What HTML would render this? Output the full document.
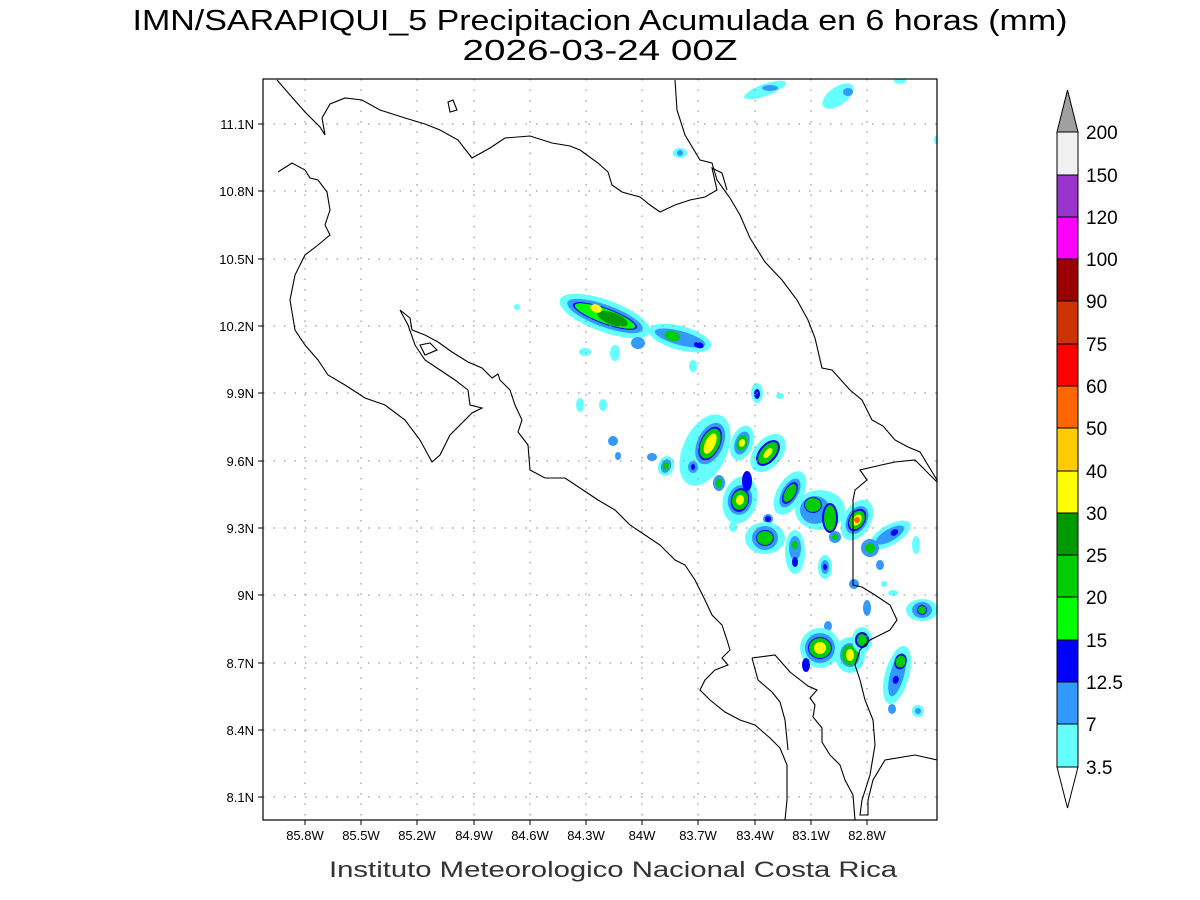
<!DOCTYPE html>
<html><head><meta charset="utf-8"><style>
body{margin:0;background:#fff;width:1200px;height:900px;overflow:hidden}
svg{display:block}
text{font-family:"Liberation Sans",sans-serif}
</style></head><body>
<svg width="1200" height="900" viewBox="0 0 1200 900" xmlns="http://www.w3.org/2000/svg">
<defs><clipPath id="c"><rect x="263" y="79" width="674" height="741"/></clipPath></defs>
<text x="600" y="30" font-size="29" text-anchor="middle" textLength="935" lengthAdjust="spacingAndGlyphs">IMN/SARAPIQUI_5 Precipitacion Acumulada en 6 horas (mm)</text>
<text x="600" y="60" font-size="29" text-anchor="middle" textLength="275" lengthAdjust="spacingAndGlyphs">2026-03-24 00Z</text>
<g clip-path="url(#c)">
<g id="blobs">
<!-- helper layers: cyan, lightblue, blue, green, dkgreen, yellow -->
<g transform="translate(605,316) rotate(20)"><ellipse rx="48" ry="16" fill="#66ffff"/><ellipse rx="40" ry="11" fill="#3399ff"/><ellipse rx="34" ry="8" fill="#0000ff"/><ellipse rx="32" ry="7" fill="#00ff00"/><ellipse cx="8" rx="16" ry="6" fill="#009900"/><ellipse cx="-11" cy="-4" rx="6" ry="4" fill="#ffff00"/></g>
<g transform="translate(680,338) rotate(15)"><ellipse rx="32" ry="12" fill="#66ffff"/><ellipse rx="26" ry="7" fill="#3399ff"/><ellipse cx="-8" rx="8" ry="5" fill="#00cc00"/><ellipse cx="20" cy="2" rx="5" ry="3" fill="#0000ff"/></g>
<ellipse cx="615" cy="353" rx="5" ry="8" fill="#66ffff"/><ellipse cx="585" cy="352" rx="6" ry="4" fill="#66ffff"/><ellipse cx="638" cy="343" rx="7" ry="6" fill="#3399ff"/><ellipse cx="693" cy="366" rx="4" ry="6" fill="#66ffff"/><ellipse cx="517" cy="307" rx="3" ry="3" fill="#66ffff"/>
<ellipse cx="580" cy="405" rx="4" ry="7" fill="#66ffff"/><ellipse cx="603" cy="405" rx="4" ry="6" fill="#66ffff"/>
<ellipse cx="757" cy="393" rx="6" ry="10" fill="#66ffff"/><ellipse cx="757" cy="394" rx="3" ry="5" fill="#0000ff"/><ellipse cx="780" cy="396" rx="4" ry="3" fill="#66ffff"/>
<g transform="translate(705,450) rotate(25)"><ellipse rx="22" ry="38" fill="#66ffff"/><ellipse cx="2" cy="-8" rx="13" ry="22" fill="#3399ff"/><ellipse cx="2" cy="-8" rx="10" ry="18" fill="#0000ff"/><ellipse cx="2" cy="-8" rx="9" ry="16" fill="#00cc00"/><ellipse cx="2" cy="-8" rx="5" ry="11" fill="#ffff00"/></g>
<g transform="translate(742,443) rotate(20)"><ellipse rx="11" ry="18" fill="#66ffff"/><ellipse rx="7" ry="12" fill="#3399ff"/><ellipse rx="5" ry="8" fill="#00cc00"/><ellipse rx="3" ry="4" fill="#ffff00"/></g>
<g transform="translate(768,453) rotate(40)"><ellipse rx="14" ry="22" fill="#66ffff"/><ellipse rx="9" ry="15" fill="#0000ff"/><ellipse rx="7" ry="13" fill="#00cc00"/><ellipse rx="3" ry="6" fill="#ffff00"/></g>
<ellipse cx="613" cy="441" rx="5" ry="5" fill="#3399ff"/><ellipse cx="618" cy="456" rx="3" ry="4" fill="#3399ff"/><ellipse cx="652" cy="457" rx="5" ry="4" fill="#3399ff"/>
<g transform="translate(666,466) rotate(20)"><ellipse rx="8" ry="10" fill="#66ffff"/><ellipse rx="5" ry="7" fill="#3399ff"/><ellipse rx="3" ry="4" fill="#00cc00"/></g>
<ellipse cx="693" cy="467" rx="5" ry="6" fill="#3399ff"/><ellipse cx="693" cy="467" rx="2" ry="3" fill="#0000ff"/>
<g transform="translate(740,500) rotate(15)"><ellipse rx="17" ry="24" fill="#66ffff"/><ellipse rx="12" ry="15" fill="#3399ff"/><ellipse rx="9" ry="12" fill="#0000ff"/><ellipse rx="8" ry="10" fill="#00cc00"/><ellipse rx="4" ry="5" fill="#ffff00"/></g>
<ellipse cx="719" cy="483" rx="6" ry="8" fill="#3399ff"/><ellipse cx="719" cy="483" rx="3" ry="5" fill="#00cc00"/>
<ellipse cx="747" cy="481" rx="5" ry="10" fill="#0000ff"/>
<g transform="translate(790,493) rotate(30)"><ellipse rx="13" ry="24" fill="#66ffff"/><ellipse rx="8" ry="16" fill="#3399ff"/><ellipse rx="6" ry="12" fill="#0000ff"/><ellipse rx="5" ry="10" fill="#00cc00"/></g>
<g transform="translate(820,510)"><ellipse rx="25" ry="20" fill="#66ffff"/><ellipse cx="-5" rx="15" ry="14" fill="#3399ff"/><ellipse cx="-7" cy="-5" rx="9" ry="8" fill="#0000ff"/><ellipse cx="-7" cy="-5" rx="8" ry="7" fill="#00cc00"/><ellipse cx="10" cy="8" rx="8" ry="15" fill="#0000ff"/><ellipse cx="10" cy="8" rx="6" ry="13" fill="#00cc00"/></g>
<g transform="translate(857,520) rotate(30)"><ellipse rx="14" ry="22" fill="#66ffff"/><ellipse rx="10" ry="15" fill="#3399ff"/><ellipse rx="8" ry="12" fill="#0000ff"/><ellipse rx="7" ry="10" fill="#00cc00"/><ellipse rx="4" ry="6" fill="#ffff00"/><ellipse rx="3" ry="3" fill="#ff6600"/></g>
<ellipse cx="835" cy="537" rx="6" ry="6" fill="#3399ff"/><ellipse cx="835" cy="537" rx="3" ry="3" fill="#00cc00"/>
<ellipse cx="768" cy="519" rx="5" ry="5" fill="#3399ff"/><ellipse cx="768" cy="519" rx="3" ry="3" fill="#0000ff"/><ellipse cx="733" cy="527" rx="4" ry="5" fill="#66ffff"/>
<g transform="translate(765,538)"><ellipse rx="20" ry="16" fill="#66ffff"/><ellipse rx="13" ry="12" fill="#3399ff"/><ellipse rx="9" ry="8" fill="#0000ff"/><ellipse rx="8" ry="7" fill="#00cc00"/></g>
<g transform="translate(795,552)"><ellipse rx="10" ry="22" fill="#66ffff"/><ellipse cy="-4" rx="6" ry="12" fill="#3399ff"/><ellipse cy="-7" rx="3" ry="4" fill="#00cc00"/><ellipse cy="10" rx="3" ry="5" fill="#0000ff"/></g>
<ellipse cx="825" cy="567" rx="7" ry="12" fill="#66ffff"/><ellipse cx="825" cy="567" rx="4" ry="7" fill="#3399ff"/><ellipse cx="825" cy="567" rx="2" ry="3" fill="#0000ff"/>
<g transform="translate(890,535) rotate(-30)"><ellipse rx="23" ry="10" fill="#66ffff"/><ellipse rx="16" ry="6" fill="#3399ff"/><ellipse cx="5" rx="4" ry="3" fill="#0000ff"/></g>
<ellipse cx="870" cy="548" rx="9" ry="9" fill="#3399ff"/><ellipse cx="870" cy="548" rx="5" ry="5" fill="#00cc00"/>
<ellipse cx="880" cy="565" rx="4" ry="5" fill="#3399ff"/><ellipse cx="916" cy="545" rx="4" ry="9" fill="#66ffff"/>
<ellipse cx="854" cy="584" rx="5" ry="5" fill="#3399ff"/><ellipse cx="884" cy="584" rx="3" ry="3" fill="#66ffff"/><ellipse cx="893" cy="593" rx="5" ry="3" fill="#66ffff"/>
<ellipse cx="867" cy="608" rx="4" ry="8" fill="#3399ff"/>
<g transform="translate(922,610)"><ellipse rx="16" ry="11" fill="#66ffff"/><ellipse rx="10" ry="8" fill="#3399ff"/><ellipse rx="5" ry="5" fill="#0000ff"/><ellipse rx="4" ry="4" fill="#00cc00"/></g>
<ellipse cx="828" cy="626" rx="4" ry="5" fill="#3399ff"/>
<g transform="translate(820,648)"><ellipse rx="20" ry="20" fill="#66ffff"/><ellipse rx="15" ry="15" fill="#3399ff"/><ellipse rx="12" ry="11" fill="#0000ff"/><ellipse rx="11" ry="10" fill="#00cc00"/><ellipse rx="6" ry="6" fill="#ffff00"/><ellipse cx="-14" cy="17" rx="4" ry="7" fill="#0000ff"/></g>
<g transform="translate(850,655)"><ellipse rx="15" ry="18" fill="#66ffff"/><ellipse rx="10" ry="12" fill="#3399ff"/><ellipse rx="8" ry="10" fill="#00cc00"/><ellipse rx="4" ry="6" fill="#ffff00"/></g>
<g transform="translate(862,640)"><ellipse rx="10" ry="13" fill="#66ffff"/><ellipse rx="7" ry="8" fill="#0000ff"/><ellipse rx="5" ry="6" fill="#00cc00"/></g>
<g transform="translate(897,675) rotate(15)"><ellipse rx="12" ry="30" fill="#66ffff"/><ellipse rx="7" ry="22" fill="#3399ff"/><ellipse cy="-14" rx="6" ry="8" fill="#0000ff"/><ellipse cy="-14" rx="5" ry="6" fill="#00cc00"/><ellipse cy="5" rx="3" ry="4" fill="#0000ff"/></g>
<ellipse cx="892" cy="709" rx="4" ry="5" fill="#3399ff"/><ellipse cx="918" cy="711" rx="6" ry="6" fill="#66ffff"/><ellipse cx="918" cy="711" rx="3" ry="3" fill="#3399ff"/>
<ellipse cx="680" cy="153" rx="7" ry="5" fill="#66ffff"/><ellipse cx="680" cy="153" rx="3" ry="3" fill="#3399ff"/>
<ellipse cx="765" cy="90" rx="22" ry="6" fill="#66ffff" transform="rotate(-20 765 90)"/><ellipse cx="770" cy="88" rx="8" ry="3" fill="#3399ff"/>
<ellipse cx="838" cy="96" rx="18" ry="9" fill="#66ffff" transform="rotate(-35 838 96)"/><ellipse cx="848" cy="92" rx="5" ry="4" fill="#3399ff"/>
<ellipse cx="900" cy="81" rx="6" ry="3" fill="#66ffff"/><ellipse cx="937" cy="140" rx="3" ry="5" fill="#66ffff"/>
</g>
<g stroke="#999" stroke-width="1.2" stroke-dasharray="1.5,9" fill="none">
<path d="M305,79V820M361,79V820M417,79V820M474,79V820M530,79V820M586,79V820M642,79V820M698,79V820M755,79V820M811,79V820M867,79V820"/>
<path d="M263,124H937M263,191H937M263,259H937M263,326H937M263,393H937M263,461H937M263,528H937M263,595H937M263,663H937M263,730H937M263,797H937"/>
</g>
<g stroke="#000" stroke-width="1.1" fill="none">
<path d="M277,80L290,95L305,112L320,127L325,135L322,118L330,104L345,98L362,100L380,110L405,118L425,124L440,130L458,140L472,158L490,148L505,138L530,136L552,143L570,146L580,150L598,163L608,172L612,185L622,192L640,197L650,205L660,212L675,205L690,200L705,197L717,190L712,168L722,173L727,190"/>
<path d="M675,80L677,110L685,135L700,160L712,163L717,180L730,198L740,215L750,238L765,262L782,280L797,300L808,320L815,338L822,368L832,370L850,390L862,400L872,420L883,426L895,440L908,447L920,452L937,480"/>
<path d="M937,482L925,470L915,460L895,462L877,466L860,470L867,480L855,490L853,500V585L862,587L875,595L890,605L897,620L890,630L870,640L860,650L855,665L860,680L865,700L873,720L875,745L870,775L862,800L860,815L868,815L868,800L873,780L885,760L915,755L937,760"/>
<path d="M278,172L292,163L305,170L310,178L318,180L327,192L330,210L325,225L330,235L318,245L305,255L295,275L290,300L295,330L305,345L318,360L328,375L345,385L365,398L385,405L405,420L420,440L432,462L440,455L450,435L462,423L472,413L482,408L470,405L468,390L455,380L440,370L425,360L415,345L408,325L400,310L410,318L412,330L425,335L438,342L452,352L468,362L482,368L492,378L498,374L500,380L510,390L515,405L522,420L518,432L528,445L530,470L545,478L565,478L580,488L598,500L615,510L630,525L645,535L660,545L675,560L685,565L695,580L705,600L712,615L722,625L727,640L730,650L722,658L728,665L715,670L705,680L700,690L710,700L725,712L740,720L755,725L770,738L780,748L787,765L787,800L785,820"/>
<path d="M752,658L775,655L790,672L808,686L817,690L810,698L815,705L813,717L822,728L822,742L830,755L840,765L845,780L853,795L855,820"/>
<path d="M752,658L758,680L772,692L780,702L785,720L788,750"/>
<path d="M420,345L430,343L437,350L425,355Z"/>
<path d="M448,102L453,100L457,110L450,112Z"/>
</g>
</g>
<rect x="263" y="79" width="674" height="741" fill="none" stroke="#000" stroke-width="1.2"/>
<g font-size="13" fill="#000" text-anchor="end">
<text x="254" y="129">11.1N</text><text x="254" y="196">10.8N</text><text x="254" y="264">10.5N</text><text x="254" y="331">10.2N</text><text x="254" y="398">9.9N</text><text x="254" y="466">9.6N</text><text x="254" y="533">9.3N</text><text x="254" y="600">9N</text><text x="254" y="668">8.7N</text><text x="254" y="735">8.4N</text><text x="254" y="802">8.1N</text>
</g>
<g stroke="#000"><path d="M263,124h-5M263,191h-5M263,259h-5M263,326h-5M263,393h-5M263,461h-5M263,528h-5M263,595h-5M263,663h-5M263,730h-5M263,797h-5M305,820v5M361,820v5M417,820v5M474,820v5M530,820v5M586,820v5M642,820v5M698,820v5M755,820v5M811,820v5M867,820v5"/></g>
<g font-size="13" fill="#000" text-anchor="middle">
<text x="305" y="840">85.8W</text><text x="361" y="840">85.5W</text><text x="417" y="840">85.2W</text><text x="474" y="840">84.9W</text><text x="530" y="840">84.6W</text><text x="586" y="840">84.3W</text><text x="642" y="840">84W</text><text x="698" y="840">83.7W</text><text x="755" y="840">83.4W</text><text x="811" y="840">83.1W</text><text x="867" y="840">82.8W</text>
</g>
<text x="613" y="877" font-size="22" text-anchor="middle" fill="#333" textLength="568" lengthAdjust="spacingAndGlyphs">Instituto Meteorologico Nacional Costa Rica</text>
<g stroke="#000" stroke-width="1">
<polygon points="1057,132 1078,132 1067.5,90" fill="#a0a0a0"/>
<rect x="1057" y="132" width="21" height="43" fill="#f0f0f0"/>
<rect x="1057" y="175" width="21" height="42" fill="#9933cc"/>
<rect x="1057" y="217" width="21" height="42" fill="#ff00ff"/>
<rect x="1057" y="259" width="21" height="42" fill="#990000"/>
<rect x="1057" y="301" width="21" height="43" fill="#cc3300"/>
<rect x="1057" y="344" width="21" height="42" fill="#ff0000"/>
<rect x="1057" y="386" width="21" height="42" fill="#ff6600"/>
<rect x="1057" y="428" width="21" height="43" fill="#ffcc00"/>
<rect x="1057" y="471" width="21" height="42" fill="#ffff00"/>
<rect x="1057" y="513" width="21" height="42" fill="#009900"/>
<rect x="1057" y="555" width="21" height="42" fill="#00cc00"/>
<rect x="1057" y="597" width="21" height="43" fill="#00ff00"/>
<rect x="1057" y="640" width="21" height="42" fill="#0000ff"/>
<rect x="1057" y="682" width="21" height="42" fill="#3399ff"/>
<rect x="1057" y="724" width="21" height="43" fill="#66ffff"/>
<polygon points="1057,767 1078,767 1067.5,808" fill="#fff"/>
</g>
<g font-size="19" fill="#000">
<text x="1086" y="139">200</text><text x="1086" y="182">150</text><text x="1086" y="224">120</text><text x="1086" y="266">100</text><text x="1086" y="308">90</text><text x="1086" y="351">75</text><text x="1086" y="393">60</text><text x="1086" y="435">50</text><text x="1086" y="478">40</text><text x="1086" y="520">30</text><text x="1086" y="562">25</text><text x="1086" y="604">20</text><text x="1086" y="647">15</text><text x="1086" y="689">12.5</text><text x="1086" y="731">7</text><text x="1086" y="774">3.5</text>
</g>
</svg>
</body></html>
